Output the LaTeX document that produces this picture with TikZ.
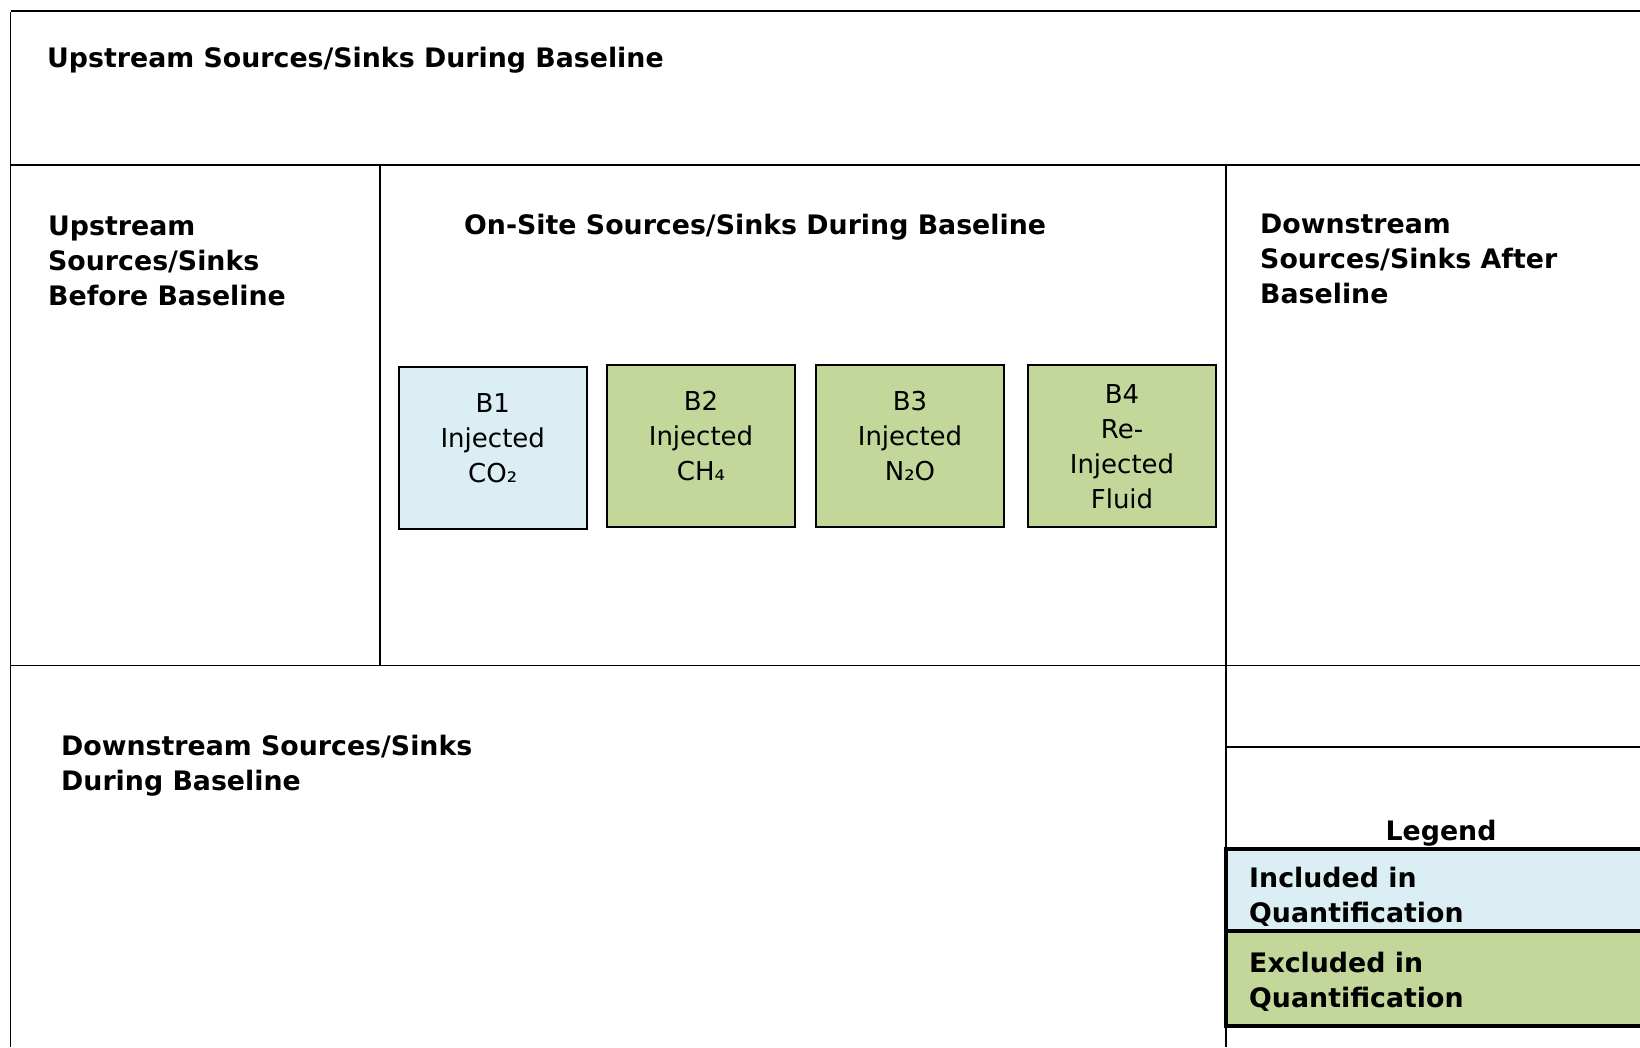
\documentclass[tikz,border=0pt]{standalone}
\usepackage{fontspec}
\setmainfont{DejaVu Sans}
\definecolor{incl}{HTML}{DAEEF3}
\definecolor{excl}{HTML}{C4D79B}
\newcommand{\hlines}[1]{\begin{tabular}[t]{@{}l@{}}#1\end{tabular}}
\newcommand{\clines}[1]{\begin{tabular}{@{}c@{}}#1\end{tabular}}
\begin{document}
\begin{tikzpicture}[x=1pt,y=-1pt,
  frame/.style={line width=1.8pt},
  head/.style={anchor=base west, inner sep=0pt, font=\bfseries\fontsize{26.8}{35}\selectfont},
  src/.style={draw, line width=2pt, minimum width=188pt, minimum height=162pt, inner sep=0pt},
  srctext/.style={inner sep=0pt, font=\fontsize{26}{35}\selectfont},
  legbox/.style={draw, line width=3.2pt}]
\useasboundingbox (0,0) rectangle (1640,1047);
% frame lines
\draw[line width=2pt] (10.5,10.5) -- (1641,10.5);
\draw[frame] (10.5,12) -- (10.5,1047);
\draw[frame] (10.5,165) -- (1641,165);
\draw[frame] (380,165) -- (380,666);
\draw[frame] (1226,165) -- (1226,1047);
\draw[frame] (10.5,665.5) -- (1641,665.5);
\draw[frame] (1226,747) -- (1641,747);
% headings
\node[head] (h1) at (47,67) {Upstream Sources/Sinks During Baseline};
\node[head] (h2) at (48,235) {\hlines{Upstream\\Sources/Sinks\\Before Baseline}};
\node[head] (h3) at (464,234) {On-Site Sources/Sinks During Baseline};
\node[head] (h4) at (1260,233) {\hlines{Downstream\\Sources/Sinks After\\Baseline}};
\node[head] (h5) at (61,755) {\hlines{Downstream Sources/Sinks\\During Baseline}};
% source/sink boxes
\node[src, fill=incl] (b1) at (492.75,448) {};
\node[src, fill=excl] (b2) at (701,446) {};
\node[src, fill=excl] (b3) at (910,446) {};
\node[src, fill=excl] (b4) at (1122,446) {};
\node[srctext] (t1) at ([yshift=8pt]b1.center) {\clines{B1\\Injected\\CO₂}};
\node[srctext] (t2) at ([yshift=7.5pt]b2.center) {\clines{B2\\Injected\\CH₄}};
\node[srctext] (t3) at ([yshift=7.5pt]b3.center) {\clines{B3\\Injected\\N₂O}};
\node[srctext] (t4) at ([yshift=-3pt]b4.center) {\clines{B4\\Re-\\Injected\\Fluid}};
% legend
\node[head, anchor=base] (leg) at (1441,840) {Legend};
\draw[legbox, fill=incl] (1226,849) rectangle (1645,931);
\draw[legbox, fill=excl] (1226,931) rectangle (1645,1026);
\node[head] (li) at (1249,887) {\hlines{Included in\\Quantification}};
\node[head] (le) at (1249,972) {\hlines{Excluded in\\Quantification}};
\end{tikzpicture}
\end{document}
